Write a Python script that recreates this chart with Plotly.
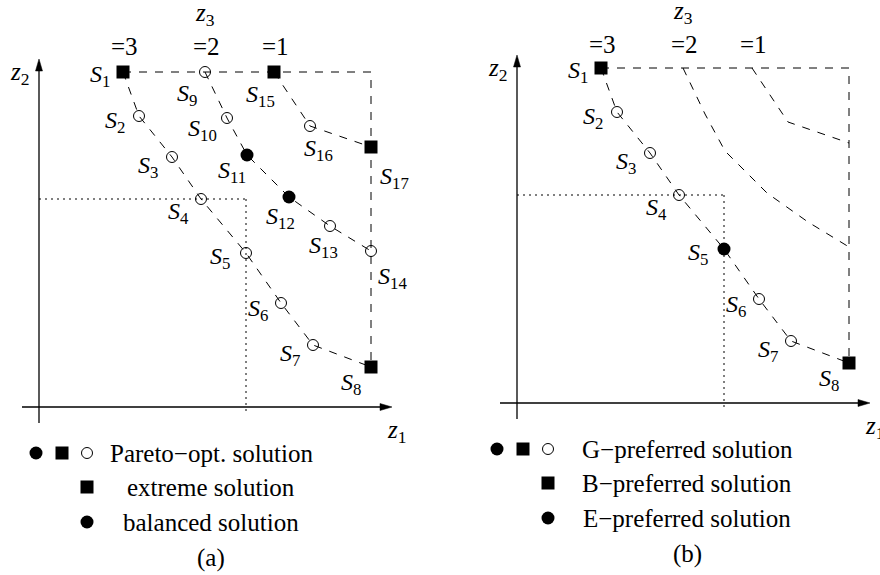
import plotly.graph_objects as go

# ---------------- data (z1, z2 in chart units) ----------------
front3_names = ["S1", "S2", "S3", "S4", "S5", "S6", "S7", "S8"]
front3_z1 = [84, 100, 133, 162, 207, 242, 274, 332]
front3_z2 = [335, 291, 250, 208, 154, 104, 62, 40]

front2_names = ["S9", "S10", "S11", "S12", "S13", "S14"]
front2_z1 = [166, 188, 208, 250, 291, 332]
front2_z2 = [335, 289, 252, 210, 181, 156]

front1_names = ["S15", "S16", "S17"]
front1_z1 = [235, 271, 332]
front1_z2 = [335, 281, 260]

z3_levels = ["=3", "=2", "=1"]

# marker kinds per panel
kind_a = {"S1": "sq", "S8": "sq", "S15": "sq", "S17": "sq", "S11": "fc", "S12": "fc"}
kind_b = {"S1": "sq", "S8": "sq", "S5": "fc"}

legend_a = ["Pareto\u2212opt. solution", "extreme solution", "balanced solution"]
legend_b = ["G\u2212preferred solution", "B\u2212preferred solution", "E\u2212preferred solution"]
panel_tags = ["(a)", "(b)"]

# ---------------- style ----------------
FONT = "Liberation Serif, Times New Roman, Times, DejaVu Serif, serif"
BLACK = "#000000"
DASH = "8px,8px"
DOT = "2px,4px"

# label offsets in pixels (right, down) relative to the point
label_off = {
    "S1": (-23, 4), "S2": (-24, 6), "S3": (-24, 10), "S4": (-23, 14),
    "S5": (-26, 5), "S6": (-23, 7), "S7": (-23, 10), "S8": (-20, 17),
    "S9": (-18, 23), "S10": (-25, 12), "S11": (-15, 17), "S12": (-9, 21),
    "S13": (-7, 21), "S14": (21, 27), "S15": (-14, 24), "S16": (8, 24),
    "S17": (23, 31),
}

fig = go.Figure()

panels = [
    dict(xa="x", ya="y", xr=[-39, 401], yr=[-168, 407], kinds=kind_a,
         labelled=front3_names + front2_names + front1_names, marked_all=True,
         legend=legend_a, sym_x=[-3, 23, 48], text_x=172, tag=panel_tags[0],
         top_shift=0),
    dict(xa="x2", ya="y2", xr=[-77, 363], yr=[-172, 403], kinds=kind_b,
         labelled=front3_names, marked_all=False,
         legend=legend_b, sym_x=[-20, 6, 31], text_x=170, tag=panel_tags[1],
         top_shift=-2),
]

def line(p, xs, ys, dash, width=1.0):
    fig.add_trace(go.Scatter(x=xs, y=ys, mode="lines", xaxis=p["xa"], yaxis=p["ya"],
                             line=dict(color=BLACK, width=width, dash=dash),
                             hoverinfo="skip", showlegend=False))

def markers(p, xs, ys, kind):
    if not xs:
        return
    if kind == "sq":
        m = dict(symbol="square", size=13, color=BLACK)
    elif kind == "fc":
        m = dict(symbol="circle", size=13, color=BLACK)
    else:
        m = dict(symbol="circle-open", size=11, color=BLACK, line=dict(width=1, color=BLACK))
    fig.add_trace(go.Scatter(x=xs, y=ys, mode="markers", xaxis=p["xa"], yaxis=p["ya"],
                             marker=m, hoverinfo="skip", showlegend=False))

def ann(p, x, y, text, size, xshift=0, yshift=0, xanchor="center"):
    fig.add_annotation(x=x, y=y, xref=p["xa"], yref=p["ya"], text=text, showarrow=False,
                       xshift=xshift, yshift=yshift, xanchor=xanchor, yanchor="middle",
                       font=dict(family=FONT, size=size, color=BLACK))

def slabel(name):
    return "<i>S</i><sub>%s</sub>" % name[1:]

top = front3_z2[0]
right = front3_z1[-1]

for p in panels:
    # axes with arrow heads
    x_end, y_end = 353, 348
    line(p, [-17, x_end - 10], [0, 0], None, 1.3)
    line(p, [0, 0], [-16, y_end - 10], None, 1.3)
    fig.add_trace(go.Scatter(x=[x_end - 12, x_end, x_end - 12, x_end - 12],
                             y=[3.5, 0, -3.5, 3.5], mode="lines", fill="toself",
                             fillcolor=BLACK, line=dict(color=BLACK, width=0.5),
                             xaxis=p["xa"], yaxis=p["ya"], hoverinfo="skip", showlegend=False))
    fig.add_trace(go.Scatter(x=[-3.5, 0, 3.5, -3.5],
                             y=[y_end - 12, y_end, y_end - 12, y_end - 12], mode="lines",
                             fill="toself", fillcolor=BLACK, line=dict(color=BLACK, width=0.5),
                             xaxis=p["xa"], yaxis=p["ya"], hoverinfo="skip", showlegend=False))
    ann(p, x_end, 0, "<i>z</i><sub>1</sub>", 25, xshift=4, yshift=-24)
    ann(p, 0, y_end - 12, "<i>z</i><sub>2</sub>", 25, xshift=-20, yshift=-2)

    # dotted reference box
    line(p, [0, front3_z1[4]], [front3_z2[3], front3_z2[3]], DOT)
    line(p, [front3_z1[4], front3_z1[4]], [front3_z2[3], -4], DOT)

    # bounding dashed box
    line(p, [front3_z1[0], right, right], [top, top, front3_z2[-1]], DASH)

    # fronts
    for xs, ys in [(front3_z1, front3_z2), (front2_z1, front2_z2), (front1_z1, front1_z2)]:
        line(p, xs, ys, DASH)

    # markers
    groups = {"sq": ([], []), "fc": ([], []), "oc": ([], [])}
    fronts = [(front3_names, front3_z1, front3_z2)]
    if p["marked_all"]:
        fronts += [(front2_names, front2_z1, front2_z2), (front1_names, front1_z1, front1_z2)]
    for names, xs, ys in fronts:
        for n, x, y in zip(names, xs, ys):
            k = p["kinds"].get(n, "oc")
            groups[k][0].append(x)
            groups[k][1].append(y)
    for k, (xs, ys) in groups.items():
        markers(p, xs, ys, k)

    # point labels
    allpts = dict(zip(front3_names + front2_names + front1_names,
                      zip(front3_z1 + front2_z1 + front1_z1, front3_z2 + front2_z2 + front1_z2)))
    for n in p["labelled"]:
        x, y = allpts[n]
        dx, dy = label_off[n]
        ann(p, x, y, slabel(n), 24, xshift=dx, yshift=-dy)

    # z3 levels
    starts = [front3_z1[0], front2_z1[0], front1_z1[0]]
    for s, t in zip(starts, z3_levels):
        ann(p, s, top, t, 25, xshift=1, yshift=26 + p["top_shift"])
    ann(p, front2_z1[0], top, "<i>z</i><sub>3</sub>", 25, yshift=58 + p["top_shift"])

    # legend rows
    rows_y = [-46, -80, -115]
    sx = p["sym_x"]
    markers(p, [sx[0]], [rows_y[0]], "fc")
    markers(p, [sx[1]], [rows_y[0]], "sq")
    markers(p, [sx[2]], [rows_y[0]], "oc")
    markers(p, [sx[2]], [rows_y[1]], "sq")
    markers(p, [sx[2]], [rows_y[2]], "fc")
    for ry, t in zip(rows_y, p["legend"]):
        ann(p, p["text_x"], ry, t, 25)
    ann(p, p["text_x"], -151, p["tag"], 25)

fig.update_layout(
    width=880, height=575,
    margin=dict(l=0, r=0, t=0, b=0),
    paper_bgcolor="white", plot_bgcolor="white",
    xaxis=dict(domain=[0, 0.5], range=panels[0]["xr"], visible=False, fixedrange=True),
    yaxis=dict(domain=[0, 1], range=panels[0]["yr"], visible=False, fixedrange=True, anchor="x"),
    xaxis2=dict(domain=[0.5, 1], range=panels[1]["xr"], visible=False, fixedrange=True, anchor="y2"),
    yaxis2=dict(domain=[0, 1], range=panels[1]["yr"], visible=False, fixedrange=True, anchor="x2"),
    showlegend=False,
)

fig.write_html("out.html", config={"displayModeBar": False},
               post_script="document.body.style.margin='0';document.body.style.overflow='hidden';")
